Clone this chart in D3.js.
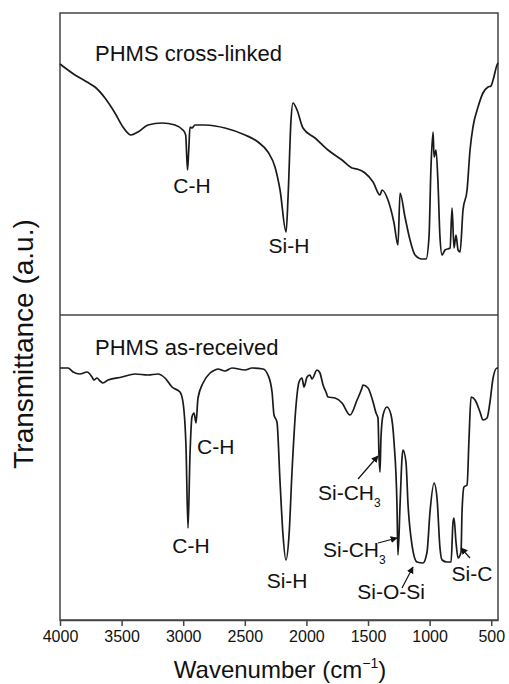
<!DOCTYPE html>
<html>
<head>
<meta charset="utf-8">
<script src="https://cdn.jsdelivr.net/npm/d3@7"></script>
<style>
  body { margin: 0; background: #fff; }
  svg text { font-family: "Liberation Sans", Arial, Helvetica, sans-serif; fill: #111; }
</style>
</head>
<body>
<svg id="chart" width="509" height="684"></svg>
<script>
// wavenumber (cm-1), transmittance (a.u., both spectra share one stacked scale)
const crossLinked = [
  [4000, 556], [3878, 545], [3781, 538], [3716, 533], [3635, 522], [3554, 507],
  [3489, 493], [3424, 485], [3367, 488], [3286, 495], [3172, 497], [3067, 495],
  [3002, 490], [2980, 485], [2965, 450], [2955, 470], [2945, 493], [2929, 492],
  [2904, 495], [2823, 495], [2742, 494], [2661, 492], [2498, 485], [2393, 478],
  [2312, 468], [2255, 453], [2214, 430], [2165, 388], [2149, 423], [2125, 500],
  [2109, 517], [2076, 510], [2028, 492], [1930, 482], [1825, 470], [1711, 460],
  [1630, 452], [1589, 451], [1524, 447], [1459, 438], [1403, 425], [1386, 430],
  [1338, 420], [1289, 397], [1257, 375], [1240, 427], [1200, 403], [1159, 380],
  [1118, 365], [1062, 361], [1029, 361], [1005, 383], [989, 453], [972, 488],
  [964, 463], [948, 470], [932, 437], [916, 383], [899, 365], [875, 370],
  [834, 372], [818, 412], [802, 372], [786, 385], [769, 370], [753, 368],
  [729, 410], [696, 430], [672, 470], [648, 493], [607, 513], [567, 527],
  [526, 533], [502, 534], [485, 540], [453, 555], [445, 557]
];

const asReceived = [
  [4000, 252], [3935, 252], [3894, 248], [3838, 246], [3781, 248], [3740, 243],
  [3724, 240], [3700, 242], [3675, 239], [3651, 237], [3610, 240], [3497, 243],
  [3391, 246], [3286, 245], [3205, 246], [3148, 242], [3091, 233], [3026, 228],
  [3002, 218], [2977, 172], [2961, 92], [2945, 165], [2929, 203], [2912, 207],
  [2896, 197], [2880, 222], [2839, 237], [2782, 247], [2742, 250], [2718, 251],
  [2661, 249], [2604, 252], [2498, 250], [2442, 252], [2352, 251], [2312, 245],
  [2279, 228], [2263, 205], [2239, 198], [2214, 138], [2190, 85], [2166, 60],
  [2141, 85], [2117, 148], [2084, 215], [2060, 238], [2036, 242], [2019, 233],
  [1995, 243], [1971, 245], [1955, 241], [1914, 250], [1890, 247], [1865, 235],
  [1841, 228], [1825, 223], [1768, 222], [1711, 217], [1646, 205], [1589, 220],
  [1549, 232], [1541, 235], [1500, 232], [1459, 218], [1435, 207], [1419, 202],
  [1411, 165], [1403, 148], [1395, 182], [1378, 205], [1346, 213], [1313, 205],
  [1289, 178], [1265, 115], [1257, 65], [1240, 115], [1224, 162], [1216, 170],
  [1192, 158], [1175, 115], [1143, 75], [1102, 58], [1054, 57], [1021, 68],
  [997, 108], [964, 137], [940, 122], [916, 72], [899, 60], [859, 58],
  [826, 58], [810, 98], [802, 102], [786, 78], [769, 62], [745, 68],
  [737, 108], [721, 133], [696, 135], [680, 182], [664, 223], [631, 220],
  [591, 208], [567, 200], [534, 202], [510, 218], [485, 242], [453, 252], [445, 252]
];

const xTicks = [4000, 3500, 3000, 2500, 2000, 1500, 1000, 500];

const panelNames = ["PHMS cross-linked", "PHMS as-received"];

// band labels: text, sub, wavenumber, a.u., anchor
const bandLabels = [
  ["C-H", "", 2929, 427, "middle"],
  ["Si-H", "", 2141, 367, "middle"],
  ["C-H", "", 2888, 166, "start"],
  ["C-H", "", 2937, 67, "middle"],
  ["Si-H", "", 2157, 32, "middle"],
  ["Si-CH", "3", 1906, 120, "start"],
  ["Si-CH", "3", 1865, 63, "start"],
  ["Si-O-Si", "", 1313, 21, "middle"],
  ["Si-C", "", 656, 39, "middle"]
];

// arrows: from [wn, a.u.] to [wn, a.u.]
const bandArrows = [
  [[1581, 141], [1419, 164]],
  [[1419, 77], [1265, 82]],
  [[1224, 32], [1135, 53]],
  [[672, 62], [745, 72]]
];

const svg = d3.select("#chart");
const plotLeft = 60, plotRight = 498, plotTop = 13, plotBottom = 620;
const panelSplit = 305;

const x = d3.scaleLinear().domain([4000, 445]).range([plotLeft, plotRight]);
const y = d3.scaleLinear().domain([0, 607]).range([plotBottom, plotTop]);

svg.append("defs").append("marker")
    .attr("id", "head")
    .attr("viewBox", "0 0 10 10")
    .attr("refX", 9).attr("refY", 5)
    .attr("markerWidth", 7).attr("markerHeight", 7)
    .attr("markerUnits", "userSpaceOnUse")
    .attr("orient", "auto")
  .append("path")
    .attr("d", "M0,0L10,5L0,10Z")
    .attr("fill", "#111");

// frame
svg.append("rect")
    .attr("x", plotLeft).attr("y", plotTop)
    .attr("width", plotRight - plotLeft).attr("height", plotBottom - plotTop)
    .attr("fill", "none")
    .attr("stroke", "#444")
    .attr("stroke-width", 1.5);

svg.append("line")
    .attr("x1", plotLeft).attr("x2", plotRight)
    .attr("y1", y(panelSplit)).attr("y2", y(panelSplit))
    .attr("stroke", "#444")
    .attr("stroke-width", 1.5);

let xAxis = svg.append("g")
    .attr("transform", "translate(0," + plotBottom + ")")
    .call(d3.axisBottom(x).tickValues(xTicks).tickFormat(d3.format("d"))
      .tickSize(6).tickSizeOuter(0).tickPadding(5));
xAxis.select(".domain").attr("stroke", "#444").attr("stroke-width", 1.5);
xAxis.selectAll(".tick line").attr("stroke", "#444").attr("stroke-width", 1.5);
xAxis.selectAll(".tick text")
    .attr("font-family", "Liberation Sans, Arial, sans-serif")
    .attr("font-size", 16)
    .attr("fill", "#222");

let line = d3.line()
    .x(d => x(d[0]))
    .y(d => y(d[1]))
    .curve(d3.curveMonotoneX);

svg.selectAll("path.spectrum")
    .data([crossLinked, asReceived])
    .enter()
    .append("path")
    .attr("class", "spectrum")
    .attr("d", line)
    .attr("fill", "none")
    .attr("stroke", "#1a1a1a")
    .attr("stroke-width", 1.7)
    .attr("stroke-linejoin", "round");

// panel names
svg.selectAll("text.panel")
    .data(panelNames)
    .enter()
    .append("text")
    .attr("class", "panel")
    .attr("x", 95)
    .attr("y", (d, i) => i == 0 ? 61 : 355)
    .attr("font-size", 22)
    .text(d => d);

// band labels
let labels = svg.selectAll("text.band")
    .data(bandLabels)
    .enter()
    .append("text")
    .attr("class", "band")
    .attr("x", d => x(d[2]))
    .attr("y", d => y(d[3]))
    .attr("text-anchor", d => d[4])
    .attr("font-size", 21);
labels.append("tspan").text(d => d[0]);
labels.filter(d => d[1] != "")
  .append("tspan")
    .attr("dy", 7)
    .attr("font-size", 12)
    .text(d => d[1]);

svg.selectAll("line.arrow")
    .data(bandArrows)
    .enter()
    .append("line")
    .attr("class", "arrow")
    .attr("x1", d => x(d[0][0])).attr("y1", d => y(d[0][1]))
    .attr("x2", d => x(d[1][0])).attr("y2", d => y(d[1][1]))
    .attr("stroke", "#111")
    .attr("stroke-width", 1.2)
    .attr("marker-end", "url(#head)");

// axis titles
svg.append("text")
    .attr("transform", "translate(33,344) rotate(-90)")
    .attr("text-anchor", "middle")
    .attr("font-size", 28)
    .text("Transmittance (a.u.)");

let xt = svg.append("text")
    .attr("x", 280)
    .attr("y", 678)
    .attr("text-anchor", "middle")
    .attr("font-size", 24);
xt.append("tspan").text("Wavenumber (cm");
xt.append("tspan").attr("dy", -10).attr("font-size", 14).text("\u22121");
xt.append("tspan").attr("dy", 10).text(")");
</script>
</body>
</html>
